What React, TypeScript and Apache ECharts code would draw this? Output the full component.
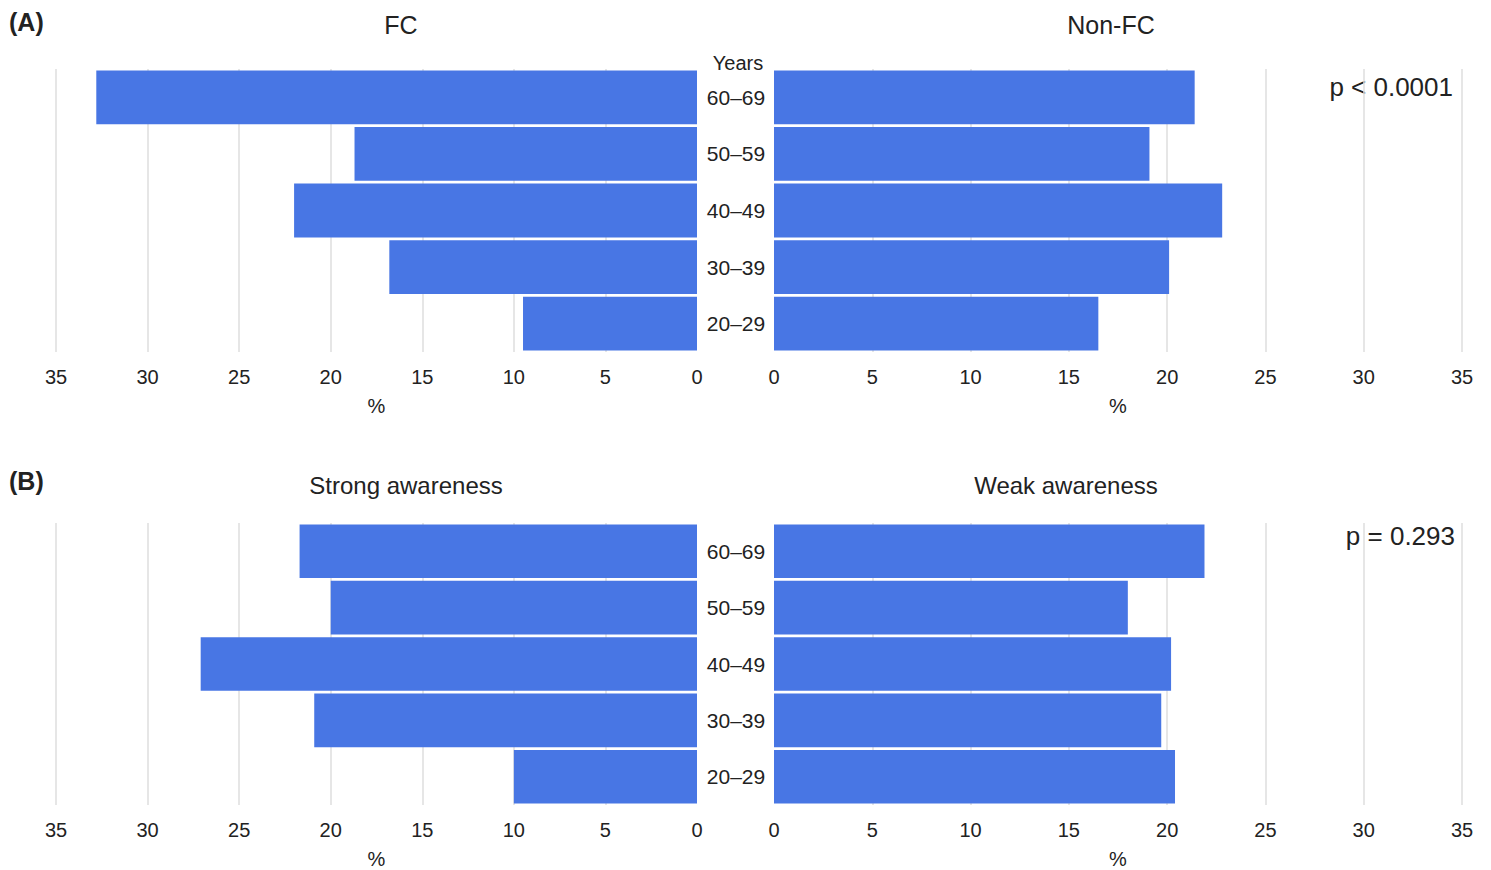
import React, { useEffect, useRef } from "react";
import * as echarts from "echarts";

const ageGroups = ["60–69", "50–59", "40–49", "30–39", "20–29"];
const fcValues = [32.8, 18.7, 22.0, 16.8, 9.5];
const nonFcValues = [21.4, 19.1, 22.8, 20.1, 16.5];
const strongValues = [21.7, 20.0, 27.1, 20.9, 10.0];
const weakValues = [21.9, 18.0, 20.2, 19.7, 20.4];
const panelTitles = ["FC", "Non-FC", "Strong awareness", "Weak awareness"];
const pValues = ["p < 0.0001", "p = 0.293"];

const BAR = "#4876e4";
const TXT = "#222222";
const FONT = "Liberation Sans, Arial, sans-serif";

export default function App() {
  const ref = useRef<HTMLDivElement>(null);
  useEffect(() => {
    document.body.style.margin = "0";
    const chart = echarts.init(ref.current!, null, { renderer: "svg" });
    const grids = [
      { left: 56, top: 69, width: 641, height: 283 },
      { left: 774, top: 69, width: 688, height: 283 },
      { left: 56, top: 523, width: 641, height: 282 },
      { left: 774, top: 523, width: 688, height: 282 },
    ];
    const grey = "#dedede";
    const xAxis = grids.map((_, i) => ({
      type: "value",
      gridIndex: i,
      min: 0,
      max: 35,
      interval: 5,
      inverse: i % 2 === 0,
      axisLine: { show: false },
      axisTick: { show: false },
      axisLabel: { fontSize: 20, color: TXT, fontFamily: FONT, margin: 15 },
      splitLine: {
        show: true,
        lineStyle: { color: ["rgba(0,0,0,0)", grey, grey, grey, grey, grey, grey, grey], width: 1.5 },
      },
      name: "%",
      nameLocation: "middle",
      nameGap: 44,
      nameTextStyle: { fontSize: 20, color: TXT, fontFamily: FONT },
    }));
    const yAxis = grids.map((_, i) => ({
      type: "category",
      gridIndex: i,
      data: ageGroups,
      inverse: true,
      position: i % 2 === 0 ? "right" : "left",
      axisLine: { show: false },
      axisTick: { show: false },
      axisLabel: {
        show: i % 2 === 1,
        align: "center",
        margin: 38,
        fontSize: 21,
        color: TXT,
        fontFamily: FONT,
      },
      splitLine: { show: false },
    }));
    const datasets = [fcValues, nonFcValues, strongValues, weakValues];
    const series = datasets.map((d, i) => ({
      type: "bar",
      xAxisIndex: i,
      yAxisIndex: i,
      data: d,
      barCategoryGap: "5%",
      itemStyle: { color: BAR },
      silent: true,
    }));
    const txt = (x: number, y: number, text: string, size: number, align = "center", weight = "normal") => ({
      type: "text",
      x,
      y,
      style: {
        text,
        fontSize: size,
        fontWeight: weight,
        fill: TXT,
        fontFamily: FONT,
        textAlign: align,
        textVerticalAlign: "middle",
      },
    });
    chart.setOption({
      animation: false,
      backgroundColor: "#ffffff",
      grid: grids,
      xAxis,
      yAxis,
      series,
      graphic: [
        txt(9, 22, "(A)", 25, "left", "bold"),
        txt(9, 481, "(B)", 25, "left", "bold"),
        txt(401, 25, panelTitles[0], 25),
        txt(1111, 25, panelTitles[1], 25),
        txt(406, 485, panelTitles[2], 24),
        txt(1066, 485, panelTitles[3], 24),
        txt(738, 63, "Years", 20),
        txt(1453, 87, pValues[0], 26, "right"),
        txt(1455, 536, pValues[1], 26, "right"),
      ],
    });
    return () => chart.dispose();
  }, []);
  return <div ref={ref} style={{ width: 1491, height: 870 }} />;
}
